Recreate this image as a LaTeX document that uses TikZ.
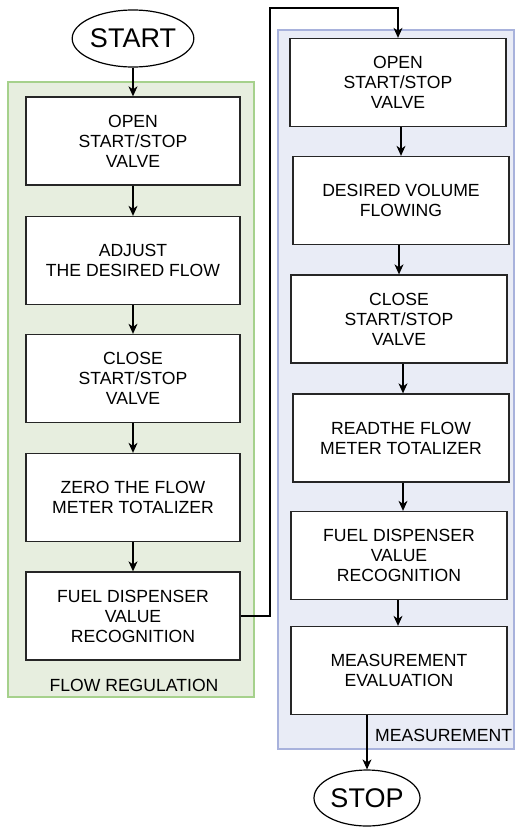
\documentclass[tikz,border=0pt]{standalone}
\usepackage{fontspec}
\setmainfont{Liberation Sans}
\usetikzlibrary{arrows.meta,shapes.geometric}
\definecolor{regfill}{HTML}{E7EEDF}
\definecolor{regline}{HTML}{A6D18C}
\definecolor{measfill}{HTML}{E9ECF6}
\definecolor{measline}{HTML}{A8B2DC}
\tikzset{
  stepbox/.style={draw=black!85, line width=1.3pt, fill=white, rectangle,
    minimum width=214pt, minimum height=88pt, align=center, inner sep=0pt,
    font=\fontsize{17.6}{20}\selectfont},
  terminal/.style={draw=black, line width=1.2pt, fill=white, ellipse,
    inner sep=0pt, font=\fontsize{27}{30}\selectfont},
  grouplabel/.style={font=\fontsize{17.6}{20}\selectfont, inner sep=0pt},
  arr/.style={draw=black, line width=1.2pt, -{Stealth[length=10pt,width=9pt,inset=3pt]}},
  link/.style={draw=black, line width=1.2pt}
}
\begin{document}
\begin{tikzpicture}[x=1pt,y=-1pt]
\useasboundingbox (0,0) rectangle (516,827);

% group backgrounds
\path[draw=regline, fill=regfill, line width=1.1pt] (8,82) rectangle (254,697);
\path[draw=measline, fill=measfill, line width=1.1pt] (278,30) rectangle (514,749);
\node[grouplabel] (flowlbl) at (134,685) {FLOW REGULATION};
\node[grouplabel, anchor=west] (measlbl) at (375,735) {MEASUREMENT};

% terminals
\node[terminal, minimum width=104pt, minimum height=57pt] (start) at (133,38.5) {START};
\node[terminal, minimum width=106pt, minimum height=56pt] (stop) at (367,798) {STOP};

% flow regulation steps
\node[stepbox] (L1) at (133,141) {OPEN\\START/STOP\\VALVE};
\node[stepbox] (L2) at (133,260.5) {ADJUST\\THE DESIRED FLOW};
\node[stepbox] (L3) at (133,378.5) {CLOSE\\START/STOP\\VALVE};
\node[stepbox] (L4) at (133,497.5) {ZERO THE FLOW\\METER TOTALIZER};
\node[stepbox] (L5) at (133,616) {FUEL DISPENSER\\VALUE\\RECOGNITION};

% measurement steps
\node[stepbox, minimum width=216pt] (R1) at (398,82.5) {OPEN\\START/STOP\\VALVE};
\node[stepbox, minimum width=216pt] (R2) at (401,200.5) {DESIRED VOLUME\\FLOWING};
\node[stepbox, minimum width=216pt] (R3) at (399,319) {CLOSE\\START/STOP\\VALVE};
\node[stepbox, minimum width=216pt] (R4) at (401,438) {READTHE FLOW\\METER TOTALIZER};
\node[stepbox, minimum width=216pt] (R5) at (399,555.5) {FUEL DISPENSER\\VALUE\\RECOGNITION};
\node[stepbox, minimum width=216pt] (R6) at (399,670.5) {MEASUREMENT\\EVALUATION};

% connectors, left column
\draw[arr] (start) -- (L1);
\draw[arr] (L1) -- (L2);
\draw[arr] (L2) -- (L3);
\draw[arr] (L3) -- (L4);
\draw[arr] (L4) -- (L5);

% hand-over to the measurement column
\coordinate (bend) at (270,8);
\draw[arr] (L5.east) -| (bend) -| (R1.north);

% connectors, right column
\draw[arr] (R1.south -| R2.north) -- (R2.north);
\draw[arr] (R2.south -| R3.north) -- (R3.north);
\coordinate (r34) at (403,0);
\draw[arr] (R3.south -| r34) -- (R4.north -| r34);
\draw[arr] (R4.south -| r34) -- (R5.north -| r34);
\coordinate (r56) at (398,0);
\draw[arr] (R5.south -| r56) -- (R6.north -| r56);
\draw[arr] (R6.south -| stop.north) -- (stop.north);
\end{tikzpicture}
\end{document}
